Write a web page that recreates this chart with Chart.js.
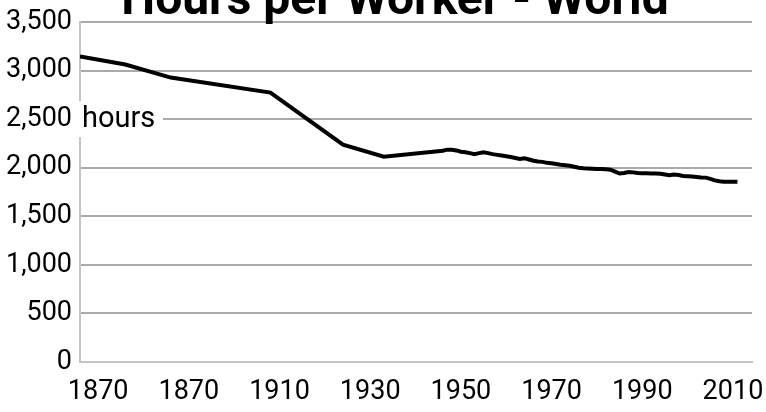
<!DOCTYPE html>
<html>
<head>
<meta charset="utf-8">
<script src="https://cdn.jsdelivr.net/npm/chart.js@4"></script>
<style>
  body { margin: 0; background: #fff; }
  #wrap { width: 766px; height: 412px; }
</style>
</head>
<body>
<div id="wrap"><canvas id="lineChart"></canvas></div>
<script>
const years = [1866, 1876, 1886, 1908, 1924, 1933,
    1946, 1947, 1948, 1949, 1950, 1951, 1952, 1953, 1954, 1955,
    1956, 1957, 1958, 1959, 1960, 1961, 1962, 1963, 1964, 1965,
    1966, 1967, 1968, 1969, 1970, 1971, 1972, 1973, 1974, 1975,
    1976, 1977, 1978, 1979, 1980, 1981, 1982, 1983, 1984, 1985,
    1986, 1987, 1988, 1989, 1990, 1991, 1992, 1993, 1994, 1995,
    1996, 1997, 1998, 1999, 2000, 2001, 2002, 2003, 2004, 2005,
    2006, 2007, 2008, 2009, 2010, 2011];
const hours = [3144, 3062, 2928, 2773, 2237, 2113,
    2175, 2186, 2185, 2178, 2165, 2160, 2150, 2140, 2150, 2158,
    2150, 2140, 2132, 2125, 2118, 2110, 2100, 2090, 2098, 2085,
    2072, 2065, 2060, 2050, 2045, 2038, 2030, 2025, 2020, 2010,
    2000, 1995, 1992, 1990, 1988, 1986, 1985, 1980, 1960, 1940,
    1945, 1955, 1952, 1945, 1942, 1942, 1940, 1940, 1938, 1930,
    1922, 1930, 1925, 1915, 1912, 1910, 1905, 1900, 1898, 1885,
    1870, 1860, 1856, 1855, 1856, 1855];
const tickYears = [1870, 1890, 1910, 1930, 1950, 1970, 1990, 2010];
const tickLabels = ['1870', '1870', '1910', '1930', '1950', '1970', '1990', '2010'];

const titleText = 'Hours per Worker - World';
const unitText = 'hours';

const points = years.map((y, i) => ({ x: y, y: hours[i] }));

// title sits half off the top, unit label sits on the 2,500 line
const overlay = {
    id: 'overlay',
    afterDraw(chart) {
        const ctx = chart.ctx;
        const area = chart.chartArea;
        const yPix = chart.scales.y.getPixelForValue(2500);
        ctx.save();
        ctx.fillStyle = '#fff';
        ctx.fillRect(area.left - 1, yPix - 18, 84, 36);
        ctx.fillStyle = '#000';
        ctx.font = '29px Roboto';
        ctx.textBaseline = 'middle';
        ctx.textAlign = 'left';
        ctx.fillText(unitText, area.left + 2, yPix + 1);
        ctx.font = 'bold 48px Roboto';
        ctx.textAlign = 'center';
        ctx.textBaseline = 'alphabetic';
        ctx.fillText(titleText, 395, 14);
        ctx.restore();
    }
};

const config = {
    type: 'line',
    data: {
        datasets: [
            {
                label: 'Hours',
                data: points,
                borderColor: '#000',
                borderWidth: 4,
                pointRadius: 0,
                tension: 0,
                fill: false
            }
        ]
    },
    options: {
        responsive: true,
        maintainAspectRatio: false,
        animation: false,
        layout: {
            padding: { top: 22, right: 14, left: 0, bottom: 0 }
        },
        plugins: {
            legend: { display: false },
            title: { display: false },
            tooltip: { enabled: false }
        },
        scales: {
            x: {
                type: 'linear',
                min: 1866,
                max: 2014.2,
                afterBuildTicks: axis => {
                    axis.ticks = tickYears.map(v => ({ value: v }));
                },
                afterFit: axis => {
                    axis.height = 50;
                    axis.paddingLeft = 0;
                    axis.paddingRight = 0;
                },
                grid: { display: false, drawTicks: false },
                border: { color: '#c4c4c4', width: 2 },
                ticks: {
                    color: '#000',
                    font: { family: 'Roboto', size: 27 },
                    maxRotation: 0,
                    autoSkip: false,
                    padding: 14,
                    callback: (v, i) => tickLabels[i]
                }
            },
            y: {
                min: 0,
                max: 3500,
                afterFit: axis => {
                    axis.width = 80;
                    axis.paddingTop = 0;
                    axis.paddingBottom = 0;
                },
                grid: { color: '#aaaaaa', lineWidth: 2, drawTicks: false },
                border: { color: '#c4c4c4', width: 2 },
                ticks: {
                    stepSize: 500,
                    color: '#000',
                    font: { family: 'Roboto', size: 27 },
                    padding: 8,
                    callback: v => v.toLocaleString('en-US')
                }
            }
        }
    },
    plugins: [overlay]
};

const ctx = document.getElementById('lineChart').getContext('2d');
const lineChart = new Chart(ctx, config);
</script>
</body>
</html>
